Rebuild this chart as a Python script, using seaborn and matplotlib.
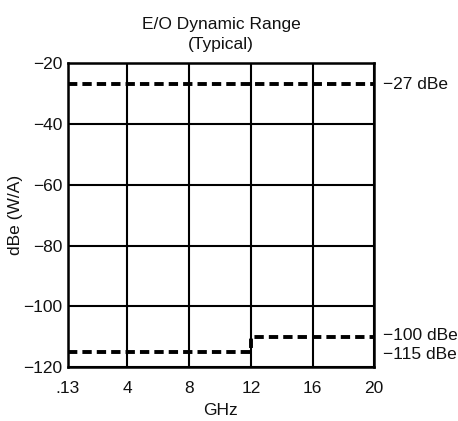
import matplotlib
matplotlib.use('Agg')
import matplotlib.pyplot as plt
import seaborn as sns
import pandas as pd

# ── Data ───────────────────────────────────────────────────────────────────────
freq_ticks = [0.13, 4, 8, 12, 16, 20]
freq_labels = ['.13', '4', '8', '12', '16', '20']
y_ticks = [-20, -40, -60, -80, -100, -120]

upper_ghz = [0.13, 20]
upper_dbe = [-27, -27]

lower_ghz = [0.13, 12, 12, 20]
lower_dbe = [-115, -115, -110, -110]

right_labels = ['\u221227 dBe', '\u2212100 dBe', '\u2212115 dBe']
right_label_y = [-27, -109.5, -116]

df_upper = pd.DataFrame({'GHz': upper_ghz, 'dBe': upper_dbe})
df_lower = pd.DataFrame({'GHz': lower_ghz, 'dBe': lower_dbe})

sns.set_style('white')
plt.rcParams['font.family'] = ['Liberation Sans', 'DejaVu Sans']
plt.rcParams['axes.unicode_minus'] = True
plt.rcParams['text.color'] = '#111111'
plt.rcParams['axes.labelcolor'] = '#111111'
plt.rcParams['xtick.color'] = '#111111'
plt.rcParams['ytick.color'] = '#111111'

fig = plt.figure(figsize=(4.58, 4.21), dpi=100)
ax = fig.add_axes([0.148, 0.128, 0.669, 0.722])

dash = (2.4, 1.3)
sns.lineplot(data=df_upper, x='GHz', y='dBe', ax=ax, color='black', lw=2.8,
             sort=False, estimator=None)
sns.lineplot(data=df_lower, x='GHz', y='dBe', ax=ax, color='black', lw=2.8,
             sort=False, estimator=None)
for line in ax.lines:
    line.set_dashes(dash)

ax.set_xlim(0.13, 20)
ax.set_ylim(-120, -20)
ax.set_xticks(freq_ticks)
ax.set_xticklabels(freq_labels)
ax.set_yticks(y_ticks)
ax.grid(True, color='black', lw=1.5)
ax.set_axisbelow(True)
ax.tick_params(axis='y', length=0, pad=4, labelsize=12.5)
ax.tick_params(axis='x', length=0, pad=10, labelsize=12.5)
for s in ax.spines.values():
    s.set_color('black')
    s.set_linewidth(1.8)

ax.set_xlabel('GHz', fontsize=12.5, labelpad=5)
ax.set_ylabel('dBe (W/A)', fontsize=12.5, labelpad=0)
ax.set_title('E/O Dynamic Range\n(Typical)', fontsize=12.5, linespacing=1.4, pad=10)

for txt, yv in zip(right_labels, right_label_y):
    ax.annotate(txt, xy=(20, yv), xytext=(6, 0), textcoords='offset points',
                va='center', ha='left', fontsize=12.5, annotation_clip=False)

plt.savefig('out.png', dpi=100)
plt.close()
